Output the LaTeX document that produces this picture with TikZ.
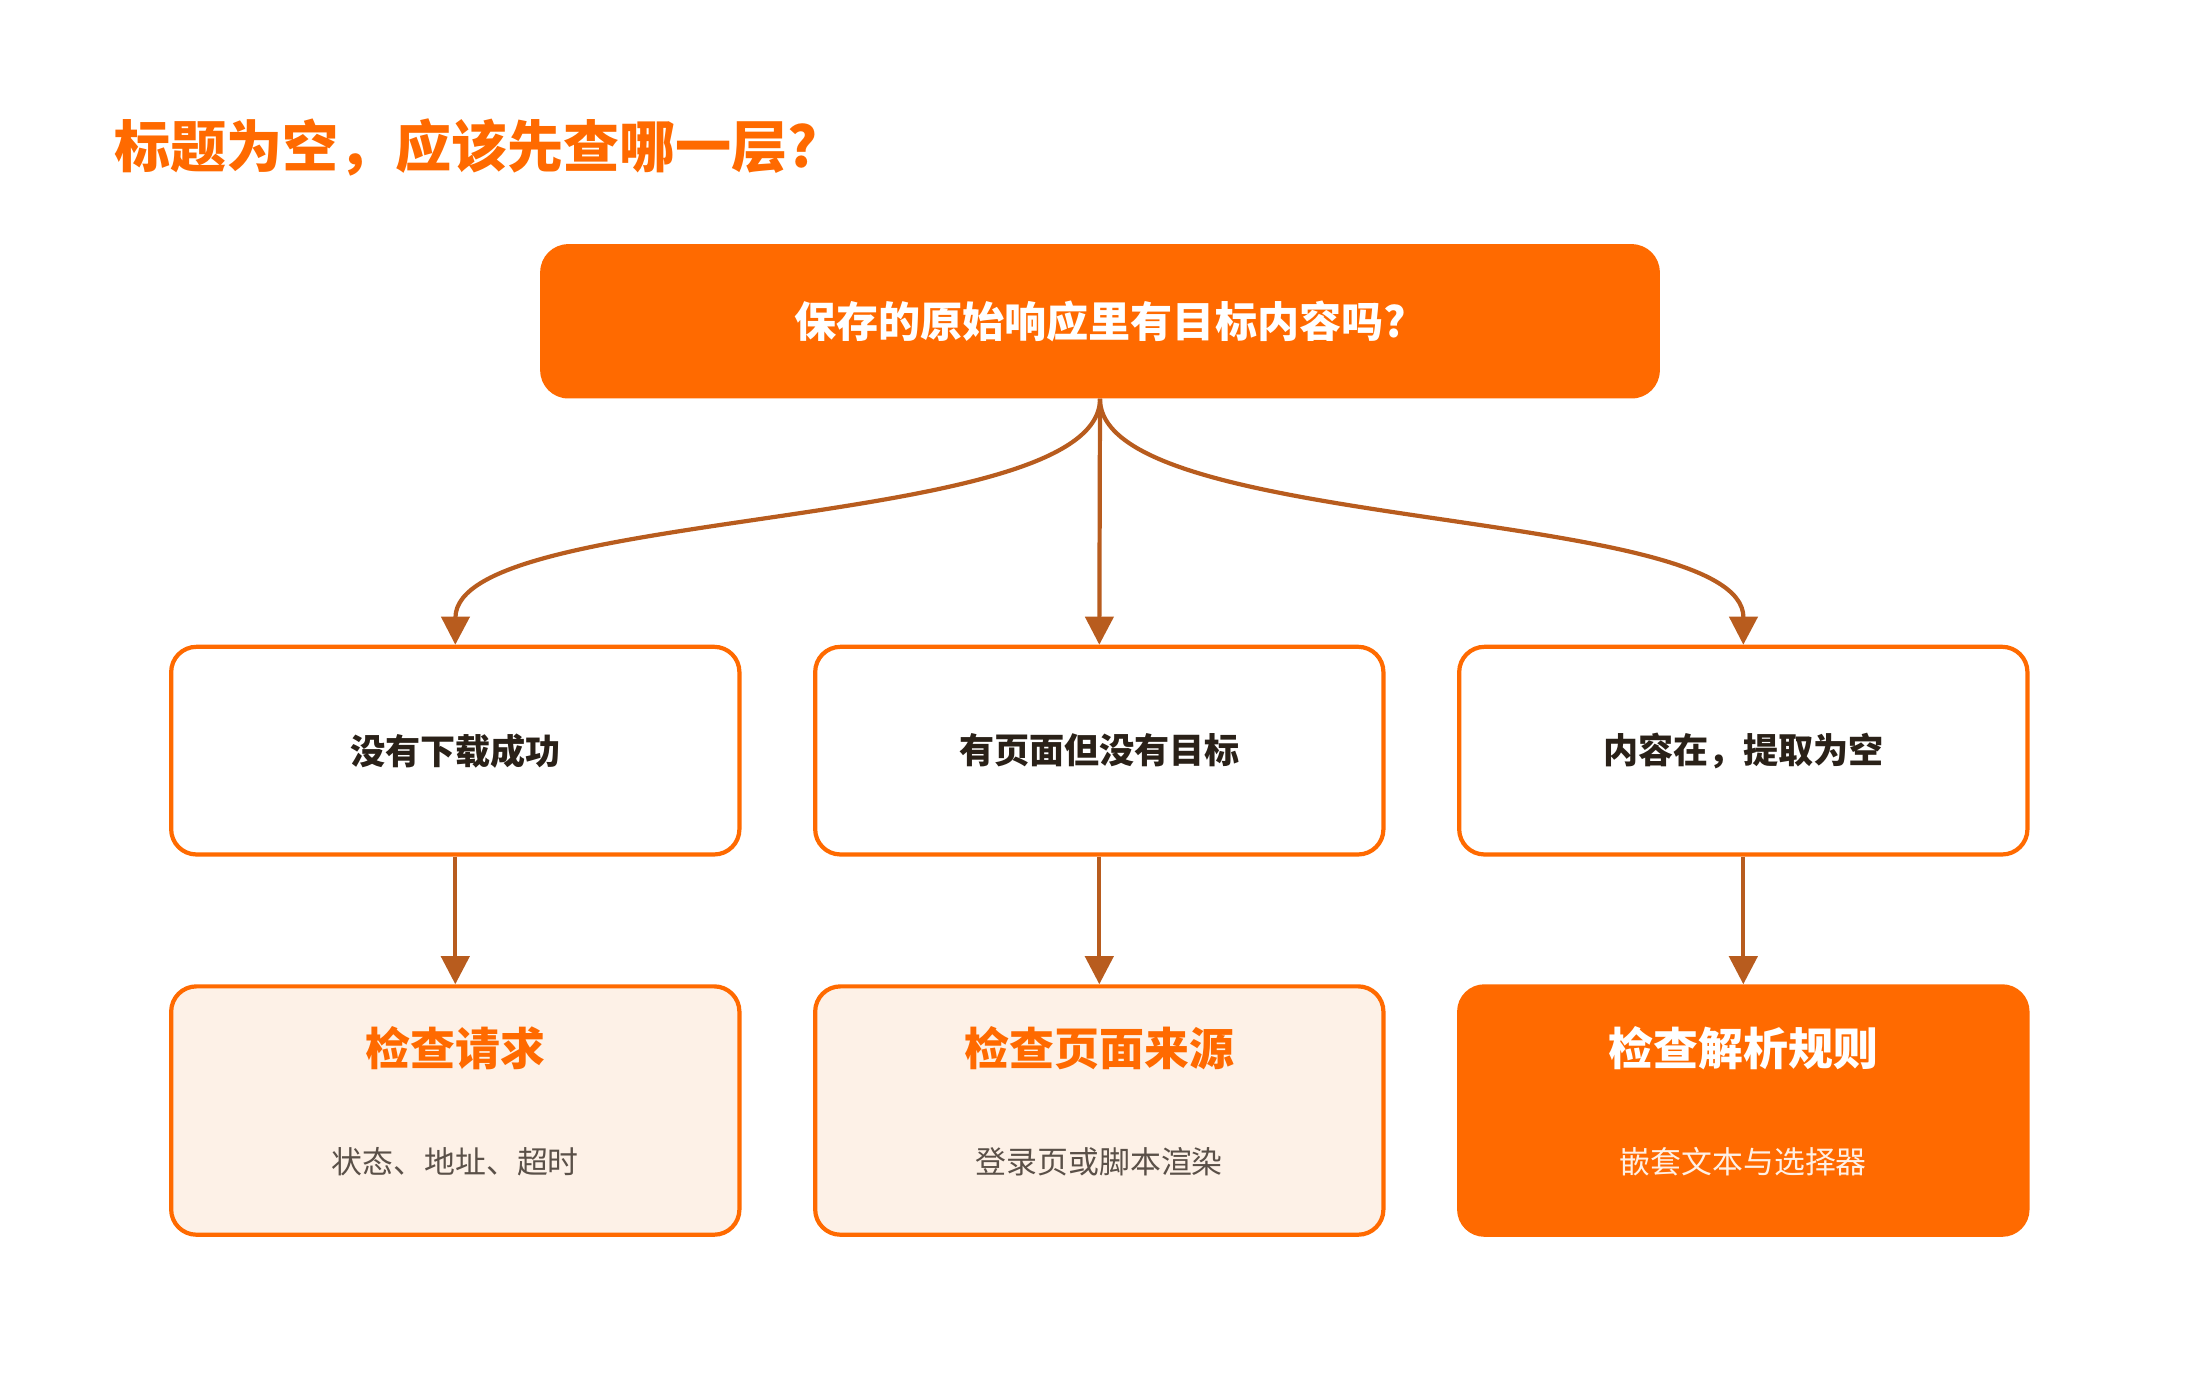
\documentclass[tikz,border=0pt]{standalone}
\usepackage{fontspec}
\setmainfont{Noto Sans CJK SC}
\usetikzlibrary{arrows.meta}
\definecolor{org}{HTML}{FF6A00}
\definecolor{brn}{HTML}{B85C1E}
\definecolor{lt}{HTML}{FDF1E7}
\definecolor{dk}{HTML}{2A2118}
\definecolor{gr}{HTML}{5A5048}
\begin{document}
\begin{tikzpicture}[x=1pt,y=-1pt,
 top/.style={fill=org,rounded corners=20pt,minimum width=798pt,minimum height=110pt,text=white,font=\fontsize{30}{34}\selectfont\bfseries},
 mid/.style={draw=org,line width=3pt,fill=white,rounded corners=18pt,minimum width=405pt,minimum height=148pt,text=dk,font=\fontsize{25}{30}\selectfont\bfseries},
 bot/.style={draw=org,line width=3pt,fill=lt,rounded corners=18pt,minimum width=405pt,minimum height=177pt},
 btitle/.style={text=org,font=\fontsize{32}{36}\selectfont\bfseries},
 bsub/.style={text=gr,font=\fontsize{22}{26}\selectfont},
 arr/.style={draw=brn,line width=3pt,-{Triangle[length=20pt,width=20pt]}}]
\useasboundingbox (0,0) rectangle (1568,986);
\node[anchor=west,text=org,font=\fontsize{40}{44}\selectfont\bfseries] (title) at (78,105) {标题为空，应该先查哪一层?};
\node[top] (q) at (784,229) {保存的原始响应里有目标内容吗?};
\node[mid] (a) at (324.5,535) {没有下载成功};
\node[mid] (b) at (783.5,535) {有页面但没有目标};
\node[mid] (c) at (1242.5,535) {内容在，提取为空};
\node[bot] (d) at (324.5,791.5) {};
\node[bot] (e) at (783.5,791.5) {};
\node[bot,fill=org] (f) at (1242.5,791.5) {};
\node[btitle] (dt) at (324.5,747) {检查请求};
\node[bsub] (ds) at (324.5,828) {状态、地址、超时};
\node[btitle] (et) at (783.5,747) {检查页面来源};
\node[bsub] (es) at (783.5,828) {登录页或脚本渲染};
\node[btitle,text=white] (ft) at (1242.5,747) {检查解析规则};
\node[bsub,text=white!90!org] (fs) at (1242.5,828) {嵌套文本与选择器};
\draw[arr] (q.south) .. controls (784,380) and (325,360) .. (a.north);
\draw[arr] (q.south) -- (b.north);
\draw[arr] (q.south) .. controls (784,380) and (1243,360) .. (c.north);
\draw[arr] (a.south) -- (d.north);
\draw[arr] (b.south) -- (e.north);
\draw[arr] (c.south) -- (f.north);
\end{tikzpicture}
\end{document}
